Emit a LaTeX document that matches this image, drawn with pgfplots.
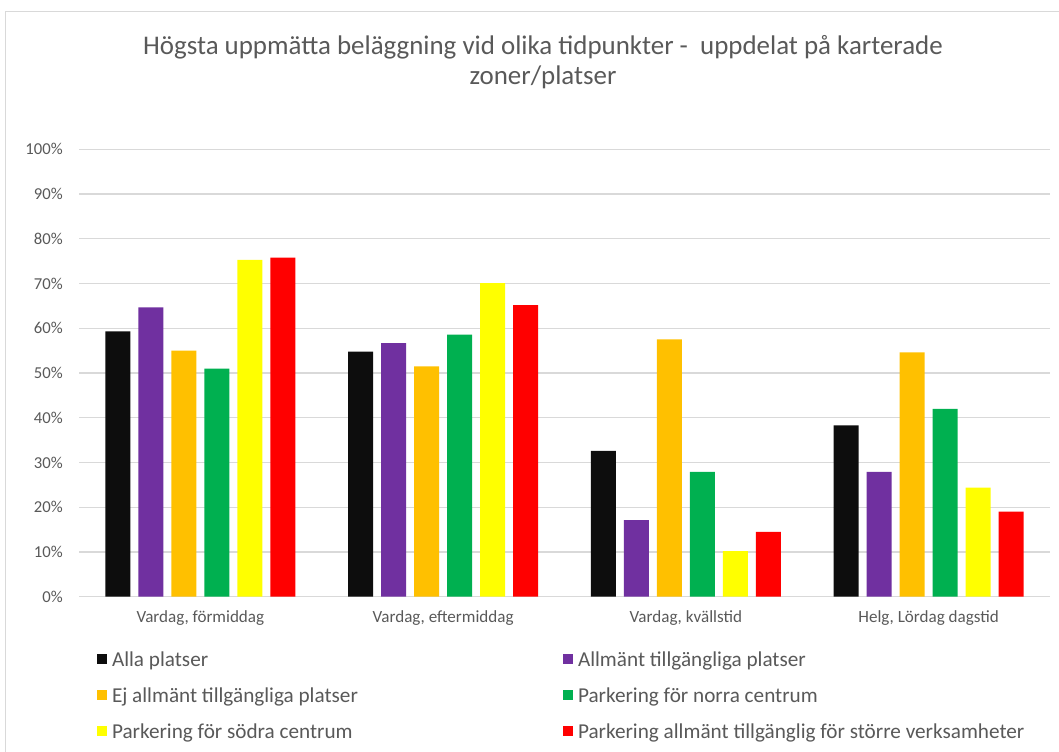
\documentclass[border=0pt]{standalone}
\usepackage{pgfplots}
\pgfplotsset{compat=1.18}
\usepackage{fontspec}
\setmainfont{Carlito}
\definecolor{cblack}{HTML}{0D0D0D}
\definecolor{cpurple}{HTML}{7030A0}
\definecolor{corange}{HTML}{FFC000}
\definecolor{cgreen}{HTML}{00B050}
\definecolor{cyellow}{HTML}{FFFF00}
\definecolor{cred}{HTML}{FF0000}
\definecolor{txtgray}{HTML}{595959}
\definecolor{gridgray}{HTML}{D9D9D9}
\begin{document}
\begin{tikzpicture}
\path[use as bounding box] (0,0) rectangle (794.25pt,563.25pt);
\draw[color=gridgray, line width=0.75pt] (3.75pt,-20pt) rectangle (820pt,554.25pt);
\node[font=\fontsize{20.2}{22.5}\selectfont, text=txtgray, align=center] at (407.25pt,516.5pt)
  {Högsta uppmätta beläggning vid olika tidpunkter -\ \ uppdelat på karterade\\zoner/platser};
\begin{axis}[
  at={(59.25pt,115.7pt)}, anchor=south west,
  scale only axis, width=728.25pt, height=335.55pt,
  xmin=-0.5, xmax=3.5, ymin=0, ymax=100,
  ybar, bar width=0.103,
  axis line style={draw=none},
  major tick length=0pt,
  xtick={0,1,2,3},
  xticklabels={{Vardag, förmiddag},{Vardag, eftermiddag},{Vardag, kvällstid},{Helg, Lördag dagstid}},
  ytick={0,10,...,100},
  yticklabels={0\%,10\%,20\%,30\%,40\%,50\%,60\%,70\%,80\%,90\%,100\%},
  ymajorgrids, grid style={gridgray, line width=0.9pt},
  xticklabel style={font=\fontsize{12.8}{14}\selectfont, text=txtgray, inner sep=0pt, anchor=north, yshift=-10.5pt},
  yticklabel style={font=\fontsize{12.5}{14}\selectfont, text=txtgray, inner sep=0pt, anchor=east, xshift=-12pt},
  legend columns=2,
  legend style={at={(0.01854,-0.1275)}, anchor=north west, draw=none, inner sep=0pt, outer sep=0pt,
    font=\fontsize{15.9}{17}\selectfont, text=txtgray, column sep=3.75pt, row sep=14.6pt,
    nodes={inner sep=0pt, text height=9pt, text depth=3pt}},
  legend cell align=left,
  legend image code/.code={\fill[#1] (0pt,-1pt) rectangle (7.5pt,6.5pt);},
]
\addplot[fill=cblack, draw=none, bar shift=-0.34] coordinates {(0,59.3) (1,54.8) (2,32.6) (3,38.3)};
\addlegendentry{\makebox[334.5pt][l]{Alla platser}}
\addplot[fill=cpurple, draw=none, bar shift=-0.204] coordinates {(0,64.7) (1,56.7) (2,17.1) (3,27.9)};
\addlegendentry{Allmänt tillgängliga platser}
\addplot[fill=corange, draw=none, bar shift=-0.068] coordinates {(0,55.0) (1,51.5) (2,57.5) (3,54.6)};
\addlegendentry{\makebox[334.5pt][l]{Ej allmänt tillgängliga platser}}
\addplot[fill=cgreen, draw=none, bar shift=0.068] coordinates {(0,51.0) (1,58.6) (2,27.9) (3,42.0)};
\addlegendentry{Parkering för norra centrum}
\addplot[fill=cyellow, draw=none, bar shift=0.204] coordinates {(0,75.3) (1,70.1) (2,10.2) (3,24.4)};
\addlegendentry{\makebox[334.5pt][l]{Parkering för södra centrum}}
\addplot[fill=cred, draw=none, bar shift=0.34] coordinates {(0,75.8) (1,65.2) (2,14.5) (3,19.0)};
\addlegendentry{Parkering allmänt tillgänglig för större verksamheter}
\end{axis}
\end{tikzpicture}
\end{document}
